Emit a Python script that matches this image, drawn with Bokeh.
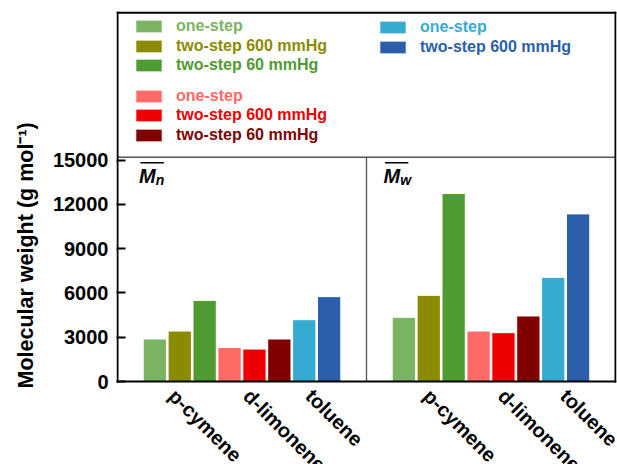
import math
from bokeh.plotting import figure
from bokeh.models import (FixedTicker, Label, Legend, LegendItem, Title,
                          BoxAnnotation, ColumnDataSource)
from bokeh.embed import file_html
from bokeh.resources import INLINE

# ---------------- data ----------------
solvents = ["p-cymene", "d-limonene", "toluene"]
series_labels = ["one-step", "two-step 600 mmHg", "two-step 60 mmHg",
                 "one-step", "two-step 600 mmHg", "two-step 60 mmHg",
                 "one-step", "two-step 600 mmHg"]
series_solvent = [0, 0, 0, 1, 1, 1, 2, 2]
series_colors = ["#7ab362", "#8b8b00", "#4f9b31",
                 "#ff6a66", "#ee0000", "#800000",
                 "#36abd1", "#2b5fa9"]
mn_values = [2880, 3420, 5500, 2310, 2200, 2880, 4190, 5750]
mw_values = [4350, 5840, 12740, 3420, 3310, 4440, 7060, 11360]
panel_main = ["M", "M"]
panel_sub = ["n", "w"]
y_ticks = [0, 3000, 6000, 9000, 12000, 15000]
y_axis_title = "Molecular weight (g mol\u207b\u00b9)"

# ---------------- layout constants ----------------
FONT = "Liberation Sans"
PANEL_SHIFT = 10          # slot offset of the second panel
BAR_W = 0.935
BOX_X = (-1.5, 18.5)      # panel box edges (slot units)
BOX_TOP = 25000
PANEL_TOP = 15200
W, H = 617, 464
LEFT, RIGHT, TOP = 116, 1, 10
FRAME_W = W - LEFT - RIGHT
FRAME_H = H - TOP
ZERO_PX = 381                      # page y of the zero line
UNITS_PER_PX = 15000 / 221.3
x_pad = (FRAME_W - 498.0) / 2 / 24.9
x_range = (BOX_X[0] - x_pad, BOX_X[1] + x_pad)
y_range = (-(H - ZERO_PX) * UNITS_PER_PX, (ZERO_PX - TOP) * UNITS_PER_PX)
LABEL_SHIFT = [-0.3, -0.07]        # per panel, category label anchor shift

p = figure(width=W, height=H, x_range=x_range, y_range=y_range,
           output_backend="svg", toolbar_location=None,
           x_axis_location=None,
           min_border_left=LEFT, min_border_right=RIGHT,
           min_border_top=TOP, min_border_bottom=0)
p.background_fill_color = "white"
p.border_fill_color = "white"
p.outline_line_color = None
p.xgrid.visible = False
p.ygrid.visible = False

# y axis (ticks + labels; box line drawn separately so it stops at zero)
p.yaxis.ticker = FixedTicker(ticks=y_ticks)
p.yaxis.major_tick_in = 9
p.yaxis.major_tick_out = 0
p.yaxis.minor_tick_line_color = None
p.yaxis.axis_line_color = None
p.yaxis.major_tick_line_width = 2
p.yaxis.major_label_text_font = FONT
p.yaxis.major_label_text_font_style = "bold"
p.yaxis.major_label_text_font_size = "20px"
p.yaxis.major_label_text_color = "black"
p.yaxis.major_label_standoff = 8

# y axis title as a side title so it can sit where the original has it
p.add_layout(Title(text=y_axis_title, align="left", offset=H - 388,
                   vertical_align="top", standoff=20,
                   text_font=FONT, text_font_style="bold",
                   text_font_size="21.5px", text_color="black"), "left")

# bars, one renderer per series (both panels)
renderers = []
for i, (lab, col) in enumerate(zip(series_labels, series_colors)):
    src = ColumnDataSource(dict(x=[i, i + PANEL_SHIFT],
                                top=[mn_values[i], mw_values[i]]))
    r = p.vbar(x="x", top="top", width=BAR_W, bottom=0, source=src,
               fill_color=col, line_color="white", line_width=1)
    renderers.append(r)

# panel box and separators
div_x = (len(series_labels) - 1 + PANEL_SHIFT) / 2.0
p.segment(x0=[BOX_X[0], div_x], y0=[PANEL_TOP, 0],
          x1=[BOX_X[1], div_x], y1=[PANEL_TOP, PANEL_TOP],
          line_color="#555555", line_width=1.3)
p.segment(x0=[BOX_X[0], BOX_X[1], BOX_X[0], BOX_X[0]],
          y0=[0, 0, BOX_TOP, 0],
          x1=[BOX_X[0], BOX_X[1], BOX_X[1], BOX_X[1]],
          y1=[BOX_TOP, BOX_TOP, BOX_TOP, 0],
          line_color="black", line_width=2, line_cap="square")

# panel titles (M with overline and subscript)
for k in range(2):
    x0 = -0.64 + k * (9.18 + 0.64)
    p.add_layout(Label(x=x0, y=13950, text=panel_main[k], text_font=FONT,
                       text_font_style="bold italic", text_font_size="20px",
                       text_baseline="alphabetic", text_align="left",
                       text_color="black"))
    p.add_layout(Label(x=x0 + 0.68, y=13650, text=panel_sub[k], text_font=FONT,
                       text_font_style="bold italic", text_font_size="14px",
                       text_baseline="alphabetic", text_align="left",
                       text_color="black"))
    p.add_layout(BoxAnnotation(left=x0 + 0.06, right=x0 + 1.0,
                               bottom=14770, top=14880,
                               fill_color="black", fill_alpha=1,
                               line_color=None))

# category labels (rotated) below the zero line
for k in range(2):
    for s, name in enumerate(solvents):
        idx = [i for i, v in enumerate(series_solvent) if v == s]
        center = sum(idx) / len(idx) + k * PANEL_SHIFT
        p.add_layout(Label(x=center + LABEL_SHIFT[k], y=-11 * UNITS_PER_PX,
                           text=name, angle=-math.pi / 4, text_font=FONT,
                           text_font_style="bold", text_font_size="20px",
                           text_align="left", text_baseline="middle",
                           text_color="black"))

# legends: one per item so each label gets its own colour
rows = [0, 1, 2, 3.5, 4.5, 5.5, 0, 1]
cols_x = [16, 16, 16, 16, 16, 16, 260, 260]
extra = [1.5, 1.5, 1.5, 2, 2, 2, 2.5, 2.5]
for i, r in enumerate(renderers):
    top_px = 17.3 + 19.8 * rows[i] + extra[i] - TOP
    item_h = 16
    loc_y = FRAME_H - (top_px + item_h)
    lg = Legend(items=[LegendItem(label=series_labels[i], renderers=[r])],
                location=(cols_x[i], loc_y),
                label_text_font=FONT, label_text_font_style="bold",
                label_text_font_size="16px",
                label_text_color=series_colors[i],
                glyph_width=33, glyph_height=16, label_height=16,
                label_standoff=11, padding=0, margin=0, spacing=0,
                background_fill_alpha=0, border_line_color=None)
    p.add_layout(lg)

open("out.html", "w").write(file_html(p, INLINE))
